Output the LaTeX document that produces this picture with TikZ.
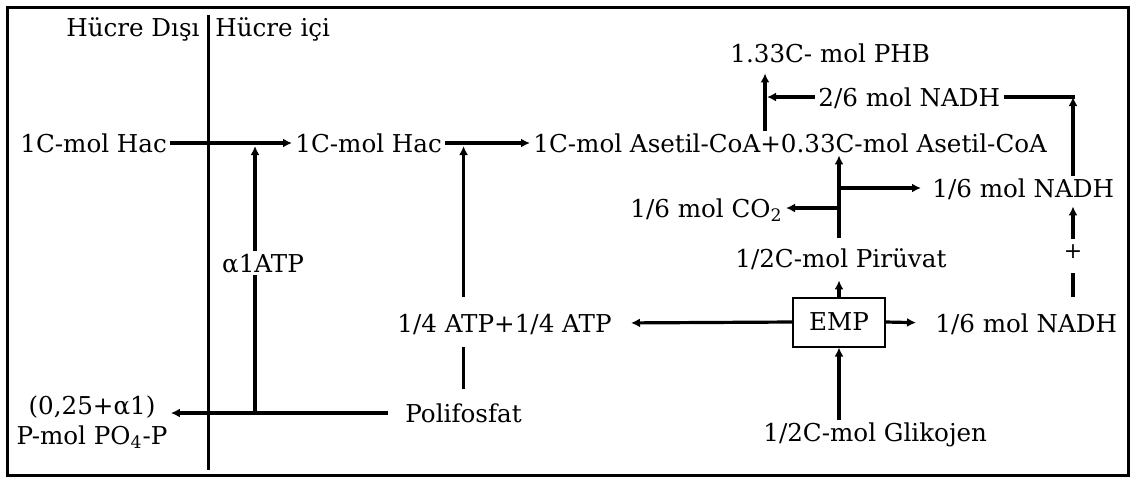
\documentclass[tikz,border=0pt]{standalone}
\usepackage{fontspec}
\setmainfont{DejaVu Serif}
\usepackage{tikz}
\usetikzlibrary{arrows.meta}

\begin{document}
\begin{tikzpicture}[x=0.5pt,y=-0.5pt,font=\fontsize{12.3}{15}\selectfont,
  lbl/.style={inner sep=1.5pt,text height=9pt,text depth=0pt},
  ln/.style={line width=1.6pt},
  arr/.style={ln,-{Latex[length=4.5pt,width=4.5pt]}}]
  \useasboundingbox (0,0) rectangle (1133,479);
  \draw[line width=1.5pt] (7,7) rectangle (1128,475);
  \draw[line width=1.5pt] (208,15) -- (208,470);

  \node[lbl,anchor=east] (disi) at (203,27) {Hücre Dışı};
  \node[lbl,anchor=west] (ici) at (212,27) {Hücre içi};
  \node[lbl,anchor=west] (hacout) at (17,143) {1C-mol Hac};
  \node[lbl,anchor=west] (hacin) at (292,143) {1C-mol Hac};
  \node[lbl,anchor=west] (acoa) at (530,143) {1C-mol Asetil-CoA+0.33C-mol Asetil-CoA};
  \node[lbl,anchor=west] (phb) at (727,53) {1.33C- mol PHB};
  \node[lbl,anchor=west] (nadhb) at (815,97) {2/6 mol NADH};
  \node[lbl,anchor=east] (co2) at (786,208) {1/6 mol CO\textsubscript{2}};
  \node[lbl,anchor=west] (nadhu) at (929,188) {1/6 mol NADH};
  \node[lbl,anchor=west] (piru) at (732,258) {1/2C-mol Pirüvat};
  \node[lbl] (alfa) at (263,263) {α1ATP};
  \node[lbl,anchor=west] (atp) at (394,323) {1/4 ATP+1/4 ATP};
  \node[draw,line width=1pt,minimum width=46pt,minimum height=24.5pt] (emp) at (839,322) {EMP};
  \node[lbl,anchor=west] (nadhl) at (932,323) {1/6 mol NADH};
  \node[lbl,text height=6pt,font=\fontsize{11}{12}\selectfont] (plus) at (1073,252) {+};
  \node[inner sep=1.5pt,align=center] (pmol) at (92,422) {(0,25+α1)\\P-mol PO\textsubscript{4}-P};
  \node[lbl,anchor=west] (polif) at (402,413) {Polifosfat};
  \node[lbl,anchor=west] (glik) at (760,432) {1/2C-mol Glikojen};

  \coordinate (xa) at (255,0);
  \coordinate (xphb) at (765,0);

  \draw[arr] (hacout.east) -- (hacin.west);
  \draw[arr] (hacin.east) -- (acoa.west);
  \draw[arr,shorten <=7pt] (polif.west) -- (pmol.east |- polif.west);
  \draw[ln] (xa |- polif.west) -- (xa |- alfa.south);
  \draw[arr,shorten >=1.5pt] (xa |- alfa.north) -- (xa |- hacout.east);
  \draw[ln,shorten <=6pt,shorten >=6pt] (polif.north) -- (polif.north |- atp.south);
  \draw[arr,shorten <=7pt,shorten >=1.5pt] (polif.north |- atp.north) -- (polif.north |- hacin.east);
  \draw[arr,shorten >=8pt] (emp.west) -- (atp.east);
  \draw[arr,shorten >=8pt] (emp.east) -- (nadhl.west);
  \draw[arr] (emp.south |- glik.north) -- (emp.south);
  \draw[arr,shorten >=5pt] (emp.north) -- (emp.north |- piru.south);
  \draw[arr,shorten <=4pt] (emp.north |- piru.north) -- (emp.north |- acoa.south);
  \draw[arr] (emp.north |- co2.east) -- (co2.east);
  \draw[arr,shorten >=4pt] (emp.north |- nadhu.west) -- (nadhu.west);
  \draw[ln,shorten <=7pt,shorten >=6pt] (plus |- nadhl.north) -- (plus.south);
  \draw[arr,shorten <=2pt,shorten >=3pt] (plus.north) -- (plus |- nadhu.south);
  \draw[arr] (plus |- nadhu.north) -- (plus |- nadhb.east);
  \draw[ln] (nadhb.east) -- ([xshift=1pt]plus |- nadhb.east);
  \draw[arr,shorten >=1pt] (nadhb.west) -- (xphb |- nadhb.west);
  \draw[arr,shorten >=4pt] (xphb |- acoa.north) -- (xphb |- phb.south);
\end{tikzpicture}
\end{document}
